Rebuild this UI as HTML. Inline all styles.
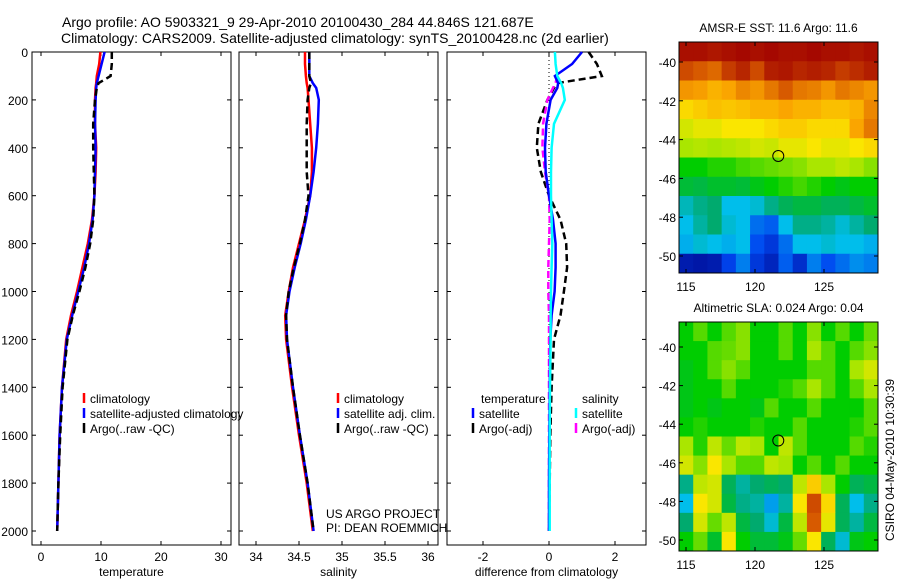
<!DOCTYPE html>
<html><head><meta charset="utf-8"><style>
html,body{margin:0;padding:0;background:#fff}
svg{display:block;font-family:"Liberation Sans",sans-serif}
text{fill:#000}
</style></head><body>
<svg id="fig" width="900" height="580" viewBox="0 0 900 580" xmlns="http://www.w3.org/2000/svg">
<text x="62" y="27" font-size="14">Argo profile: AO 5903321_9 29-Apr-2010 20100430_284 44.846S 121.687E</text>
<text x="61" y="43" font-size="14">Climatology: CARS2009. Satellite-adjusted climatology: synTS_20100428.nc (2d earlier)</text>
<g id="plots"></g>
</svg>
<script>
// ---- profile data ----
const depthTicks=[0,200,400,600,800,1000,1200,1400,1600,1800,2000];
const tempTicks=[0,10,20,30];
const salTicks=[34,34.5,35,35.5,36];
const diffTicks=[-2,0,2];
const depths=[0,50,100,130,150,200,300,400,500,600,700,800,900,1000,1100,1200,1400,1600,1800,2000];
const tempClim=[9.9,9.7,9.3,9.2,9.1,9.0,9.0,9.2,9.1,8.9,8.5,7.8,6.9,6.0,5.0,4.2,3.5,3.1,2.9,2.7];
const tempSat =[10.6,10.1,9.6,9.3,9.2,9.1,9.0,9.1,9.0,8.9,8.6,8.0,7.2,6.2,5.2,4.3,3.5,3.1,2.9,2.7];
const tempArgo=[11.8,11.8,11.6,9.6,9.3,9.0,8.7,8.7,8.8,8.9,8.7,8.2,7.4,6.4,5.3,4.4,3.6,3.2,2.9,2.7];
const salClim=[34.57,34.57,34.58,34.59,34.60,34.61,34.63,34.65,34.65,34.63,34.57,34.50,34.43,34.38,34.34,34.35,34.42,34.50,34.59,34.66];
const salSat =[34.62,34.62,34.62,34.66,34.70,34.73,34.72,34.70,34.67,34.63,34.58,34.52,34.45,34.39,34.35,34.36,34.43,34.51,34.60,34.67];
const salArgo=[34.62,34.62,34.62,34.64,34.62,34.60,34.59,34.59,34.59,34.61,34.57,34.51,34.44,34.38,34.35,34.36,34.43,34.51,34.60,34.67];
const dTempSat =[1.0,0.7,0.18,0.28,0.25,0.05,-0.08,-0.12,-0.1,0.0,0.12,0.2,0.2,0.17,0.08,0.04,0.02,0.01,0.0,0.0];
const dTempArgo=[1.2,1.45,1.6,0.25,0.15,-0.05,-0.32,-0.37,-0.25,0.0,0.35,0.52,0.55,0.45,0.35,0.15,0.08,0.04,0.02,0.0];
const dSalSat  =[0.18,0.2,0.25,0.37,0.42,0.48,0.15,0.08,0.06,0.06,0.08,0.1,0.08,0.06,0.05,0.05,0.03,0.02,0.02,0.02];
const dSalArgo =[null,null,0.25,0.2,0.12,-0.05,-0.18,-0.2,-0.12,0.0,0.02,0.0,-0.02,-0.02,0.0,0.0,0.0,0.0,0.0,0.0];
// ---- map data (0..1 colour scale) ----
const mapLons=[115,120,125];
const mapLats=[-40,-42,-44,-46,-48,-50];
const sstGrid=[
[.98,.98,.97,.98,.99,.98,.99,.98,.98,.99,.98,.98,.97,.98],
[.9,.88,.86,.92,.95,.9,.96,.97,.95,.96,.95,.92,.94,.96],
[.8,.79,.76,.78,.82,.8,.84,.88,.84,.83,.8,.84,.82,.8],
[.7,.72,.74,.73,.74,.76,.76,.78,.76,.76,.74,.74,.76,.82],
[.64,.66,.66,.68,.68,.68,.7,.72,.72,.7,.7,.7,.78,.84],
[.6,.61,.6,.61,.62,.64,.63,.66,.66,.68,.66,.66,.68,.7],
[.5,.5,.52,.52,.54,.55,.56,.57,.58,.6,.6,.62,.6,.58],
[.45,.44,.46,.46,.45,.48,.5,.52,.54,.52,.5,.48,.5,.5],
[.34,.38,.4,.3,.3,.32,.38,.42,.44,.44,.42,.42,.44,.46],
[.3,.36,.4,.32,.3,.2,.18,.3,.38,.38,.36,.32,.36,.4],
[.28,.32,.3,.28,.3,.16,.12,.2,.3,.3,.32,.3,.3,.28],
[.06,.05,.06,.14,.22,.12,.08,.18,.1,.22,.16,.2,.24,.22]];
const slaGrid=[
[.5,.55,.5,.55,.58,.5,.5,.55,.5,.58,.5,.55,.5,.56],
[.5,.5,.55,.56,.58,.5,.5,.55,.5,.6,.55,.5,.55,.58],
[.48,.5,.55,.58,.55,.5,.5,.5,.5,.55,.55,.5,.6,.64],
[.48,.5,.5,.55,.5,.5,.5,.52,.55,.6,.55,.5,.55,.6],
[.48,.5,.48,.5,.5,.48,.55,.5,.5,.55,.5,.5,.5,.55],
[.5,.52,.5,.5,.5,.52,.5,.5,.55,.5,.5,.5,.52,.55],
[.6,.52,.62,.56,.62,.6,.5,.62,.55,.5,.5,.5,.55,.52],
[.64,.58,.68,.6,.55,.55,.62,.6,.5,.55,.5,.55,.5,.5],
[.38,.62,.64,.42,.36,.4,.42,.4,.62,.72,.6,.5,.42,.44],
[.3,.68,.64,.44,.38,.36,.26,.36,.68,.9,.7,.42,.3,.38],
[.4,.64,.56,.62,.44,.4,.32,.44,.62,.88,.66,.42,.36,.44],
[.5,.56,.46,.68,.5,.45,.45,.48,.56,.68,.42,.32,.48,.5]];
const argoLon=121.687, argoLat=-44.846;

const NS="http://www.w3.org/2000/svg";
const root=document.getElementById('plots');
function mk(tag,attrs,parent){const e=document.createElementNS(NS,tag);for(const k in attrs)e.setAttribute(k,attrs[k]);(parent||root).appendChild(e);return e;}
const Y0=52,YS=0.2395,TOP=52,BOT=545;
const yD=d=>Y0+d*YS;

function panel(name,x0,x1,xs,ticks,labels,xlabel,yLabels){
  const g=mk('g',{});
  
  
  const r=mk('rect',{x:x0,y:TOP,width:x1-x0,height:BOT-TOP,fill:'none',stroke:'#000','stroke-width':1},g);
  
  
  ticks.forEach((t,i)=>{const x=xs(t);
    mk('line',{x1:x,x2:x,y1:BOT,y2:BOT-4,stroke:'#000'},g);
    mk('line',{x1:x,x2:x,y1:TOP,y2:TOP+4,stroke:'#000'},g);
    const tx=mk('text',{x:x,y:561,'font-size':12,'text-anchor':'middle'},g);tx.textContent=labels[i];
    
    
  });
  depthTicks.forEach(d=>{const y=yD(d);
    mk('line',{x1:x0,x2:x0+4,y1:y,y2:y,stroke:'#000'},g);
    mk('line',{x1:x1,x2:x1-4,y1:y,y2:y,stroke:'#000'},g);
    if(yLabels){const t=mk('text',{x:x0-4,y:y+5,'font-size':12,'text-anchor':'end'},g);t.textContent=d;
      
      }
  });
  const xl=mk('text',{x:(x0+x1)/2,y:576,'font-size':12,'text-anchor':'middle'},g);xl.textContent=xlabel;
  
  
  return g;
}
function series(g,name,vals,xs,color,dash,w){
  let d='';let pen=false;
  vals.forEach((v,i)=>{if(v===null){pen=false;return;}d+=(pen?'L':'M')+xs(v).toFixed(1)+','+yD(depths[i]).toFixed(1);pen=true;});
  const p=mk('path',{d:d,fill:'none',stroke:color,'stroke-width':w||2.5,'stroke-dasharray':dash||'none'},g);
  
  
}
function legend(g,x,y,color,label){
  mk('line',{x1:x,x2:x,y1:y-10,y2:y,stroke:color,'stroke-width':2.5},g);
  const t=mk('text',{x:x+6,y:y,'font-size':12},g);t.textContent=label;
  
  
}
// temperature
const xT=t=>41+6*t;
const g1=panel('temperature-panel',32,231,xT,tempTicks,tempTicks,'temperature',true);
series(g1,'temp-climatology',tempClim,xT,'#f00');
series(g1,'temp-satellite-adjusted',tempSat,xT,'#00f');
series(g1,'temp-argo',tempArgo,xT,'#000','7,4');
legend(g1,84,403,'#f00','climatology');legend(g1,84,418,'#00f','satellite-adjusted climatology');legend(g1,84,433,'#000','Argo(..raw -QC)');
// salinity
const xS=s=>299+86*(s-34.5);
const g2=panel('salinity-panel',239,438,xS,salTicks,['34','34.5','35','35.5','36'],'salinity',false);
series(g2,'sal-climatology',salClim,xS,'#f00');
series(g2,'sal-satellite-adjusted',salSat,xS,'#00f');
series(g2,'sal-argo',salArgo,xS,'#000','7,4');
legend(g2,338,403,'#f00','climatology');legend(g2,338,418,'#00f','satellite adj. clim.');legend(g2,338,433,'#000','Argo(..raw -QC)');
const c1=mk('text',{x:326,y:518,'font-size':12},g2);c1.textContent='US ARGO PROJECT';
const c2=mk('text',{x:326,y:532,'font-size':12},g2);c2.textContent='PI: DEAN ROEMMICH';
// difference
const xDf=v=>549+33*v;
const g3=panel('difference-panel',447,646,xDf,diffTicks,['-2','0','2'],'difference from climatology',false);
mk('line',{x1:549,x2:549,y1:TOP,y2:yD(2000),stroke:'#000','stroke-dasharray':'1,3'},g3);
series(g3,'diff-temp-argo',dTempArgo,xDf,'#000','7,4');
series(g3,'diff-sal-argo',dSalArgo,xDf,'#f0f','7,4');
series(g3,'diff-temp-satellite',dTempSat,xDf,'#00f');
series(g3,'diff-sal-satellite',dSalSat,xDf,'#0ff');
const lt=mk('text',{x:481,y:403,'font-size':12},g3);lt.textContent='temperature';
const ls=mk('text',{x:582,y:403,'font-size':12},g3);ls.textContent='salinity';
legend(g3,473,418,'#00f','satellite');legend(g3,473,433,'#000','Argo(-adj)');
legend(g3,576,418,'#0ff','satellite');legend(g3,576,433,'#f0f','Argo(-adj)');
// colour scale
const cStops=[[0,[0,0,130]],[0.15,[0,70,240]],[0.3,[0,190,235]],[0.4,[0,170,110]],[0.5,[0,205,0]],[0.6,[170,230,0]],[0.68,[250,230,0]],[0.78,[250,165,0]],[0.88,[215,90,0]],[1,[160,0,0]]];
function cmap(v){v=Math.max(0,Math.min(1,v));for(let i=1;i<cStops.length;i++){if(v<=cStops[i][0]){const a=cStops[i-1],b=cStops[i],f=(v-a[0])/(b[0]-a[0]);return 'rgb('+a[1].map((c,k)=>Math.round(c+(b[1][k]-c)*f)).join(',')+')';}}return 'rgb(160,0,0)';}
function map(name,grid,x0,y0,w,h,latTop,latBot,title){
  const g=mk('g',{});
  
  
  const rows=grid.length,cols=grid[0].length,cw=w/cols,ch=h/rows;
  grid.forEach((row,i)=>row.forEach((v,j)=>{
    const c=mk('rect',{x:(x0+j*cw).toFixed(2),y:(y0+i*ch).toFixed(2),width:(cw+0.5).toFixed(2),height:(ch+0.5).toFixed(2),fill:cmap(v)},g);
    
    
  }));
  mk('rect',{x:x0,y:y0,width:w,height:h,fill:'none',stroke:'#000'},g);
  const xm=lon=>686+13.8*(lon-115);
  const ym=lat=>latTop+(latBot-latTop)*(lat+40)/-10;
  mapLons.forEach(l=>{const x=xm(l);mk('line',{x1:x,x2:x,y1:y0+h,y2:y0+h-4,stroke:'#000'},g);mk('line',{x1:x,x2:x,y1:y0,y2:y0+4,stroke:'#000'},g);
    const t=mk('text',{x:x,y:y0+h+18,'font-size':12,'text-anchor':'middle'},g);t.textContent=l;
    
    });
  mapLats.forEach(l=>{const y=ym(l);mk('line',{x1:x0,x2:x0+4,y1:y,y2:y,stroke:'#000'},g);mk('line',{x1:x0+w,x2:x0+w-4,y1:y,y2:y,stroke:'#000'},g);
    const t=mk('text',{x:x0-3,y:y+5,'font-size':12,'text-anchor':'end'},g);t.textContent=l;
    
    });
  const c=mk('circle',{cx:xm(argoLon),cy:ym(argoLat),r:5.5,fill:'none',stroke:'#000','stroke-width':1},g);
  
  
  const t=mk('text',{x:x0+w/2,y:y0-10,'font-size':12,'text-anchor':'middle'},g);t.textContent=title;
  
  
}
map('sst-map',sstGrid,679,42,199,231,62,256,'AMSR-E SST: 11.6 Argo: 11.6');
map('sla-map',slaGrid,679,322,199,229,347,540,'Altimetric SLA: 0.024 Argo: 0.04');
const st=mk('text',{x:0,y:0,'font-size':12,'text-anchor':'middle',transform:'translate(894,460) rotate(-90)'});
st.textContent='CSIRO 04-May-2010 10:30:39';


</script>
</body></html>
